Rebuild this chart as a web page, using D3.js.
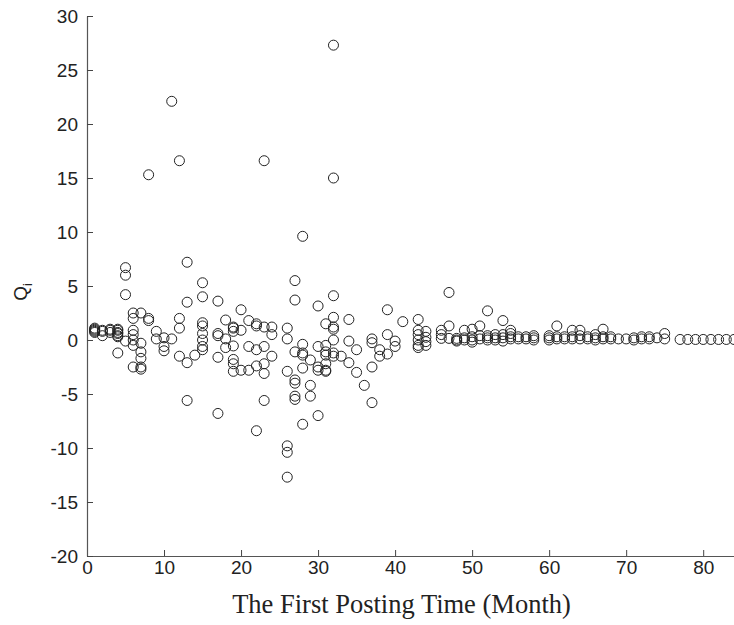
<!DOCTYPE html>
<html lang="en">
<head>
    <meta charset="UTF-8">
    <title>Q_i vs First Posting Time</title>
    <script src="https://d3js.org/d3.v7.min.js"></script>
    <style>
        body { margin: 0; background: #fff; }
        .tick-label { font-family: "Liberation Sans Narrow", "Arial Narrow", "Liberation Sans", Arial, sans-serif; font-size: 19px; fill: #222; }
        .axis-title { font-family: "Liberation Serif", "Times New Roman", serif; font-size: 26.5px; fill: #222; }
        .y-title { font-family: "Liberation Sans", Arial, sans-serif; font-size: 19px; fill: #222; }
    </style>
</head>
<body>
    <div id="chart"></div>
    <script>
        const months = [
            1, 1, 1, 1, 1,
            2, 2, 2,
            3, 3, 3,
            4, 4, 4, 4, 4, 4, 4,
            5, 5, 5, 5,
            6, 6, 6, 6, 6, 6, 6,
            7, 7, 7, 7, 7, 7,
            8, 8, 8,
            9, 9,
            10, 10, 10,
            11, 11,
            12, 12, 12, 12,
            13, 13, 13, 13,
            14,
            15, 15, 15, 15, 15, 15, 15, 15,
            17, 17, 17, 17, 17,
            18, 18, 18,
            19, 19, 19, 19, 19, 19, 19,
            20, 20, 20,
            21, 21, 21,
            22, 22, 22, 22, 22,
            23, 23, 23, 23, 23, 23,
            24, 24, 24,
            26, 26, 26, 26, 26, 26,
            27, 27, 27, 27, 27, 27, 27,
            28, 28, 28, 28, 28, 28,
            29, 29, 29,
            30, 30, 30, 30, 30,
            31, 31, 31, 31, 31, 31, 31,
            32, 32, 32, 32, 32, 32, 32, 32, 32,
            33,
            34, 34, 34,
            35, 35,
            36,
            37, 37, 37, 37,
            38, 38,
            39, 39, 39,
            40, 40,
            41,
            43, 43, 43, 43, 43, 43,
            44, 44, 44, 44,
            46, 46, 46,
            47, 47, 47,
            48, 48, 48,
            49, 49, 49,
            50, 50, 50, 50,
            51, 51, 51,
            52, 52, 52, 52,
            53, 53, 53,
            54, 54, 54, 54,
            55, 55, 55, 55,
            56, 56,
            57, 57,
            58, 58, 58,
            60, 60, 60,
            61, 61, 61,
            62, 62,
            63, 63, 63,
            64, 64, 64,
            65, 65,
            66, 66, 66,
            67, 67, 67,
            68, 68,
            69,
            70,
            71, 71,
            72, 72,
            73, 73,
            74,
            75, 75,
            77, 78, 79, 80, 81, 82, 83, 84
        ];
        const qValues = [
            1.0, 0.9, 0.8, 1.1, 0.7,
            0.8, 0.4, 0.9,
            1.0, 0.9, 0.7,
            1.0, 0.9, 0.7, 0.6, 0.4, 0.3, -1.2,
            6.7, 6.0, 4.2, -0.1,
            2.5, 2.0, 0.9, 0.5, 0.0, -0.5, -2.5,
            2.5, -0.3, -1.1, -1.7, -2.5, -2.7,
            15.3, 2.0, 1.8,
            0.8, 0.1,
            0.2, -0.6, -1.0,
            22.1, 0.1,
            16.6, 2.0, 1.1, -1.5,
            7.2, 3.5, -2.1, -5.6,
            -1.4,
            5.3, 4.0, 1.6, 1.3, 0.6, 0.0, -0.6, -0.9,
            3.6, 0.6, 0.4, -1.6, -6.8,
            1.85, 0.1, -0.7,
            1.2, 1.1, 0.8, -0.55, -1.8, -2.2, -2.9,
            2.8, 0.9, -2.8,
            1.8, -0.6, -2.8,
            1.5, 1.3, -0.9, -2.4, -8.4,
            16.6, 1.2, -0.6, -2.2, -3.1, -5.6,
            1.2, 0.5, -1.5,
            1.1, 0.1, -2.9, -9.8, -10.4, -12.7,
            5.5, 3.7, -1.1, -3.7, -4.0, -5.2, -5.5,
            9.6, -0.4, -1.2, -1.4, -2.6, -7.8,
            -1.85, -4.2, -5.2,
            3.15, -0.6, -2.5, -2.8, -7.0,
            1.5, -0.5, -1.1, -1.4, -2.2, -2.8, -2.9,
            27.3, 15.0, 4.1, 2.1, 1.2, 1.0, 0.0, -1.2, -1.5,
            -1.5,
            1.9, -0.1, -2.1,
            -0.9, -3.0,
            -4.2,
            0.1, -0.25, -2.5, -5.8,
            -0.9, -1.5,
            2.8, 0.5, -1.3,
            -0.1, -0.6,
            1.7,
            1.9, 0.9, 0.5, 0.0, -0.5, -0.7,
            0.8, 0.25, -0.15, -0.5,
            0.9, 0.5, 0.15,
            4.4, 1.3, 0.15,
            0.15, 0.0, -0.1,
            0.9, 0.2, 0.0,
            1.0, 0.3, 0.0, -0.2,
            1.3, 0.4, 0.1,
            2.7, 0.4, 0.2, 0.0,
            0.5, 0.2, 0.0,
            1.8, 0.5, 0.2, -0.1,
            0.9, 0.6, 0.3, 0.1,
            0.3, 0.1,
            0.3, 0.1,
            0.4, 0.2, 0.0,
            0.4, 0.2, 0.0,
            1.3, 0.3, 0.1,
            0.3, 0.1,
            0.9, 0.3, 0.1,
            0.9, 0.4, 0.1,
            0.3, 0.1,
            0.5, 0.2, 0.0,
            1.0, 0.3, 0.1,
            0.3, 0.1,
            0.1,
            0.1,
            0.2, 0.0,
            0.3, 0.1,
            0.3, 0.1,
            0.2,
            0.6, 0.1,
            0.05, 0.05, 0.05, 0.05, 0.05, 0.05, 0.05, 0.05
        ];
        const xTicks = [0, 10, 20, 30, 40, 50, 60, 70, 80];
        const yTicks = [-20, -15, -10, -5, 0, 5, 10, 15, 20, 25, 30];

        const W = 734, H = 625;
        const margin = {top: 16, right: 0, bottom: 69, left: 87};
        const width = W - margin.left - margin.right,
              height = H - margin.top - margin.bottom;

        const svg = d3.select("#chart")
            .append("svg")
            .attr("width", W)
            .attr("height", H);

        const g = svg.append("g")
            .attr("transform", `translate(${margin.left},${margin.top})`);

        const x = d3.scaleLinear().domain([0, 84]).range([0, width]);
        const y = d3.scaleLinear().domain([-20, 30]).range([height, 0]);

        const data = months.map((m, i) => ({month: m, q: qValues[i]}));

        // points first, axes drawn on top like MATLAB
        g.selectAll(".dot")
            .data(data)
            .enter().append("circle")
            .attr("class", "dot")
            .attr("cx", d => x(d.month))
            .attr("cy", d => y(d.q))
            .attr("r", 5)
            .attr("fill", "none")
            .attr("stroke", "#222")
            .attr("stroke-width", 1);

        // ticks point inward, plain hyphen for minus
        const fmt = d => String(d);
        const xAxis = g.append("g")
            .attr("transform", `translate(0,${height})`)
            .call(d3.axisBottom(x).tickValues(xTicks).tickFormat(fmt).tickSizeInner(-6).tickSizeOuter(0).tickPadding(5));
        const yAxis = g.append("g")
            .call(d3.axisLeft(y).tickValues(yTicks).tickFormat(fmt).tickSizeInner(-6).tickSizeOuter(0).tickPadding(9));

        [xAxis, yAxis].forEach(ax => {
            ax.attr("font-size", null).attr("font-family", null);
            ax.select(".domain").attr("stroke", "#555").attr("stroke-width", 1.2);
            ax.selectAll(".tick line").attr("stroke", "#444");
            ax.selectAll(".tick text").attr("class", "tick-label");
        });

        // x title
        g.append("text")
            .attr("class", "axis-title")
            .attr("text-anchor", "middle")
            .attr("x", x(42) - 9)
            .attr("y", height + 57)
            .text("The First Posting Time (Month)");

        // y title Q_i
        const yt = svg.append("text")
            .attr("class", "y-title")
            .attr("text-anchor", "middle")
            .attr("transform", `translate(27,${margin.top + y(5) + 6}) rotate(-90)`);
        yt.append("tspan").text("Q");
        yt.append("tspan").attr("dy", 5).attr("font-size", 13).text("i");
    </script>
</body>
</html>
